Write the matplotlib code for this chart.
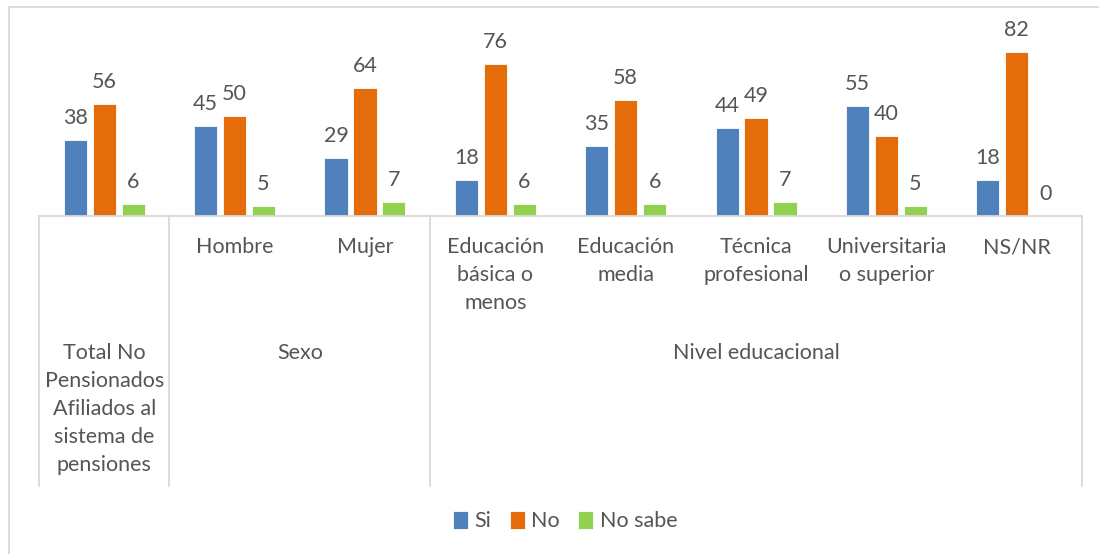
import matplotlib
matplotlib.use("Agg")
import matplotlib.pyplot as plt
import matplotlib.transforms as mtransforms
from matplotlib.lines import Line2D
import numpy as np

plt.rcParams['font.family'] = ['Lato', 'DejaVu Sans']

categories = ["Total No\nPensionados\nAfiliados al\nsistema de\npensiones",
              "Hombre", "Mujer", "Educación\nbásica o\nmenos", "Educación\nmedia",
              "Técnica\nprofesional", "Universitaria\no superior", "NS/NR"]
groups = [("", 0, 0), ("Sexo", 1, 2), ("Nivel educacional", 3, 7)]
series_names = ["Si", "No", "No sabe"]
si = [38, 45, 29, 18, 35, 44, 55, 18]
no = [56, 50, 64, 76, 58, 49, 40, 82]
no_sabe = [6, 5, 7, 6, 6, 7, 5, 0]
colors = ["#4F81BD", "#E46C0A", "#92D050"]
text_color = "#555555"
line_color = "#D9D9D9"

W, H = 1099, 554
fig = plt.figure(figsize=(W / 100, H / 100), dpi=100)

# outer chart frame (left and top edges visible)
fig.lines.append(Line2D([9 / W, 9 / W, 1.0], [0.0, 1 - 7 / H, 1 - 7 / H],
                        transform=fig.transFigure, color=line_color, linewidth=1.3))

left_px, right_px, base_px, top_px = 39, 1082, 216, 16
ax = fig.add_axes([left_px / W, 1 - base_px / H, (right_px - left_px) / W, (base_px - top_px) / H])
ax.set_xlim(-0.5, len(categories) - 0.5)
ax.set_ylim(0, 100)
for s in ax.spines.values():
    s.set_visible(False)
ax.set_xticks([])
ax.set_yticks([])

def ay(px):
    """figure pixel y -> axes fraction"""
    return (base_px - px) / (base_px - top_px)

x = np.arange(len(categories))
offs = [-0.222, 0.0, 0.222]
width = 0.178
fs = 15.5
for vals, name, col, o in zip([si, no, no_sabe], series_names, colors, offs):
    ax.bar(x + o, vals, width, color=col, label=name, edgecolor='white', linewidth=0.6)
    for xi, v in zip(x + o, vals):
        ax.annotate(f"{v}", (xi, v), xytext=(0, 9), textcoords='offset points',
                    ha='center', va='bottom', fontsize=fs, color=text_color)

trans = mtransforms.blended_transform_factory(ax.transData, ax.transAxes)
lkw = dict(color=line_color, linewidth=1.3, transform=trans, clip_on=False)
# baseline
ax.plot([-0.5, len(categories) - 0.5], [0, 0], **lkw)
# group separators
bottom = ay(486)
seps = [-0.5] + [g[2] + 0.5 for g in groups]
for sx in seps:
    ax.plot([sx, sx], [0, bottom], **lkw)

ls = 1.5
# level-1 labels (individual categories)
for i, c in enumerate(categories):
    if i == 0:
        continue
    ax.text(i, ay(237), c, transform=trans, ha='center', va='top',
            fontsize=fs, color=text_color, linespacing=ls)
# level-2 labels (groups)
ax.text(0, ay(343), categories[0], transform=trans, ha='center', va='top',
        fontsize=fs, color=text_color, linespacing=ls)
for name, a, b in groups[1:]:
    ax.text((a + b) / 2, ay(343), name, transform=trans, ha='center', va='top',
            fontsize=fs, color=text_color, linespacing=ls)

leg = fig.legend(loc='center', bbox_to_anchor=(565 / W, 1 - 521 / H), ncol=3, frameon=False,
                 fontsize=fs, handlelength=0.7, handleheight=0.9, handletextpad=0.3,
                 columnspacing=0.85)
for t in leg.get_texts():
    t.set_color(text_color)

fig.savefig("out.png", dpi=100)
